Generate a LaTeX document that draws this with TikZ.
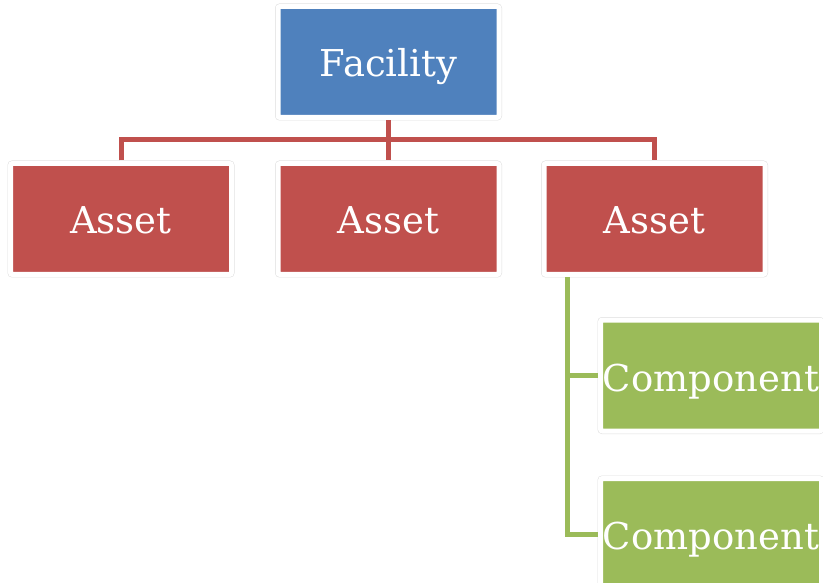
\documentclass[tikz,border=0pt]{standalone}
\usepackage{fontspec}
\setmainfont{DejaVu Serif}
\definecolor{facblue}{HTML}{4F81BD}
\definecolor{assetred}{HTML}{C0504D}
\definecolor{compgreen}{HTML}{9BBB59}
\definecolor{rimgray}{HTML}{DDDDDD}
\begin{document}
\begin{tikzpicture}[x=1pt,y=-1pt,
  orgbox/.style={rectangle, minimum width=221pt, minimum height=111pt, inner sep=0pt,
    outer sep=3pt, draw=white, line width=5pt, rounded corners=2pt,
    preaction={draw=rimgray, line width=6pt},
    text=white, font=\fontsize{37}{40}\selectfont},
  facbox/.style={orgbox, fill=facblue},
  assetbox/.style={orgbox, fill=assetred},
  compbox/.style={orgbox, fill=compgreen},
  redline/.style={draw=assetred, line width=5pt, line join=miter},
  greenline/.style={draw=compgreen, line width=5pt, line join=miter}]
\clip (0,0) rectangle (823,583);
\useasboundingbox (0,0) rectangle (823,583);
\node[facbox] (fac) at (388.5,62) {};
\node[assetbox] (a1) at (121,219) {};
\node[assetbox] (a2) at (388.5,219) {};
\node[assetbox] (a3) at (654.5,219) {};
\node[compbox] (c1) at (711,375.5) {};
\node[compbox] (c2) at (711,534) {};
\node[anchor=base, text=white, font=\fontsize{37}{40}\selectfont] (tfac) at (388.5,77) {Facility};
\node[anchor=base, text=white, font=\fontsize{37}{40}\selectfont] (ta1) at (121,234) {Asset};
\node[anchor=base, text=white, font=\fontsize{37}{40}\selectfont] (ta2) at (388.5,234) {Asset};
\node[anchor=base, text=white, font=\fontsize{37}{40}\selectfont] (ta3) at (654.5,234) {Asset};
\node[anchor=base, text=white, font=\fontsize{37}{40}\selectfont] (tc1) at (711,391) {Component};
\node[anchor=base, text=white, font=\fontsize{37}{40}\selectfont] (tc2) at (711,549.5) {Component};
\coordinate (bus) at (388.5,140);
\coordinate (g) at (567,0);
\draw[redline] (fac.south) -- (a2.north);
\draw[redline] (a1.north) -- (a1.north |- bus) -- (a3.north |- bus) -- (a3.north);
\draw[greenline] (a3.south -| g) -- (g |- c2.west) -- (c2.west);
\draw[greenline] (g |- c1.west) -- (c1.west);
\end{tikzpicture}
\end{document}
